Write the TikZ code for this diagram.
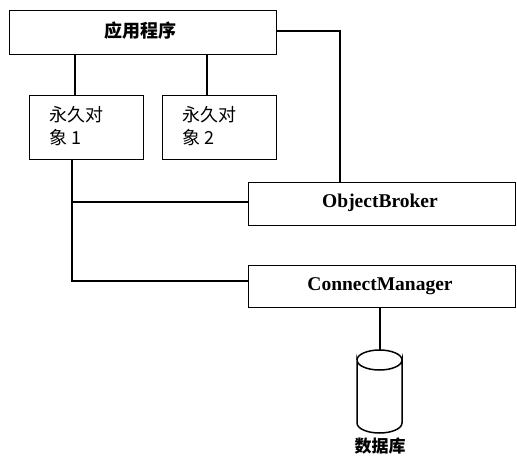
\documentclass[tikz,border=0pt]{standalone}
\usepackage{fontspec}
\setmainfont{Liberation Serif}
\newfontfamily\cjk{Noto Sans CJK SC}
\begin{document}
\begin{tikzpicture}[x=1pt,y=-1pt,line width=1.3pt,
  box/.style={draw,rectangle,inner sep=0pt,anchor=north west},
  lbl/.style={font=\fontsize{19.5}{22}\selectfont\bfseries},
  cjkl/.style={font=\fontsize{18}{23}\selectfont\cjk},
  conn/.style={draw,line width=1.3pt}]
\useasboundingbox (0,0) rectangle (517,456);
% boxes
\node[box,minimum width=267pt,minimum height=44pt] (app) at (9,10) {};
\node[cjkl,font=\fontsize{18}{22}\selectfont\cjk\bfseries] (apptext) at (140,31) {应用程序};
\node[box,minimum width=114pt,minimum height=64pt] (p1) at (29,95) {};
\node[cjkl,anchor=north west,align=left] (p1t) at (46,102) {永久对\\象 1};
\node[box,minimum width=114pt,minimum height=64pt] (p2) at (162,95) {};
\node[cjkl,anchor=north west,align=left] (p2t) at (179,102) {永久对\\象 2};
\node[box,minimum width=267pt,minimum height=43pt] (ob) at (248,182) {};
\node[lbl] (obt) at (380,203) {ObjectBroker};
\node[box,minimum width=267pt,minimum height=42pt] (cm) at (248,265) {};
\node[lbl] (cmt) at (380,286) {ConnectManager};
% database cylinder
\coordinate (db) at (380,350);
\draw[line width=1.5pt] (357,360) arc[start angle=180,end angle=0,x radius=22.5pt,y radius=-10pt]
      -- (402,423) arc[start angle=0,end angle=-180,x radius=22.5pt,y radius=10pt] -- cycle;
\draw[line width=1.5pt] (357,360) arc[start angle=180,end angle=360,x radius=22.5pt,y radius=-10pt];
\node[cjkl,font=\fontsize{17}{20}\selectfont\cjk\bfseries] (dbt) at (380,446) {数据库};
% connectors
\coordinate (a1) at (75,54);
\coordinate (a2) at (207,54);
\draw[conn] (a1) -- (a1 |- p1.north);
\draw[conn] (a2) -- (a2 |- p2.north);
\coordinate (ar) at (276,31);
\coordinate (rc) at (340,31);
\draw[conn] (ar) -- (rc) -- (rc |- ob.north);
\coordinate (b1) at (72,159);
\coordinate (bj) at (72,202);
\coordinate (bk) at (72,281);
\draw[conn] (b1) -- (bk) -- (bk -| cm.west);
\draw[conn] (bj) -- (bj -| ob.west);
\draw[conn] (db) -- (db |- cm.south);
\end{tikzpicture}
\end{document}
